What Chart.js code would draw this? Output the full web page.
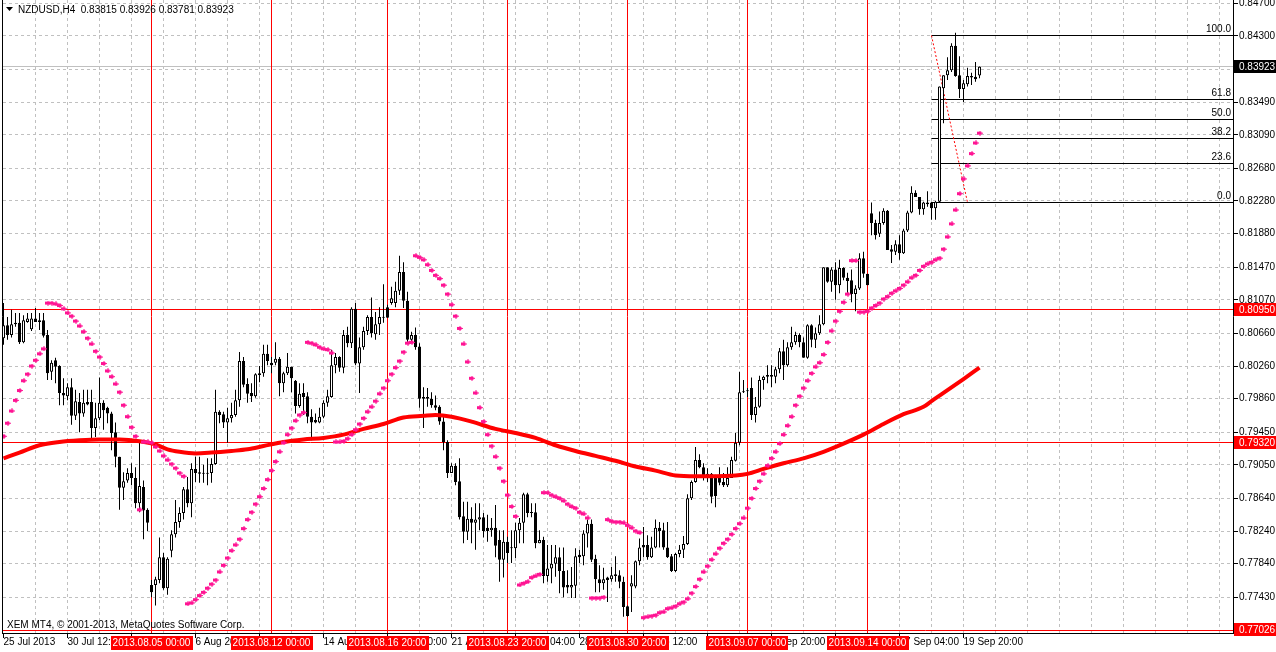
<!DOCTYPE html>
<html>
<head>
<meta charset="utf-8">
<title>NZDUSD,H4</title>
<script src="https://cdn.jsdelivr.net/npm/chart.js@4.4.0/dist/chart.umd.min.js"></script>
<style>
  html, body { margin: 0; padding: 0; background: #fff; }
</style>
</head>
<body>
<canvas id="chart" width="1276" height="652"></canvas>
<script>
// NZDUSD H4 bars, bar 0 = 25 Jul 2013 20:00
const symbol = 'NZDUSD,H4';

const opens = [
  .8060, .8076, .8064, .8079, .8079, .8055, .8080, .8071, .8084, .8082,
  .8082, .8064, .8019, .8033, .8026, .7993, .7989, .8000, .7965, .7982,
  .7968, .7982, .7982, .7950, .7962, .7981, .7975, .7968, .7945, .7915,
  .7877, .7886, .7895, .7889, .7858, .7878, .7850, .7758, .7758, .7764,
  .7792, .7754, .7800, .7820, .7835, .7846, .7875, .7858, .7900, .7896,
  .7895, .7894, .7895, .7906, .7970, .7967, .7957, .7962, .7966, .7984,
  .8032, .8004, .7993, .7989, .8017, .8017, .8041, .8030, .8030, .8035,
  .8005, .8017, .8025, .8008, .7977, .7993, .7989, .7964, .7960, .7957,
  .7964, .7981, .7988, .8027, .8037, .8024, .8064, .8054, .8096, .8029,
  .8049, .8069, .8086, .8065, .8077, .8086, .8098, .8103, .8103, .8118,
  .8141, .8106, .8058, .8064, .8050, .7988, .7988, .7986, .7978, .7976,
  .7958, .7933, .7895, .7904, .7885, .7842, .7823, .7839, .7834, .7838,
  .7841, .7828, .7825, .7828, .7813, .7789, .7811, .7803, .7803, .7825,
  .7834, .7869, .7847, .7847, .7809, .7813, .7769, .7778, .7784, .7792,
  .7775, .7758, .7755, .7757, .7795, .7793, .7821, .7833, .7790, .7765,
  .7760, .7767, .7765, .7771, .7770, .7762, .7732, .7756, .7756, .7787,
  .7807, .7807, .7792, .7804, .7828, .7825, .7804, .7793, .7775, .7796,
  .7801, .7808, .7864, .7884, .7911, .7902, .7890, .7894, .7890, .7889,
  .7884, .7880, .7889, .7910, .7932, .7994, .7996, .7999, .7966, .7976,
  .8009, .8015, .8015, .8013, .8022, .8044, .8027, .8049, .8055, .8064,
  .8055, .8036, .8076, .8058, .8066, .8077, .8147, .8129, .8144, .8125,
  .8146, .8134, .8131, .8114, .8121, .8158, .8139, .8213, .8201, .8188,
  .8201, .8216, .8169, .8166, .8175, .8164, .8192, .8214, .8238, .8233,
  .8218, .8226, .8226, .8219, .8227, .8366, .8382, .8388, .8418, .8382,
  .8365, .8371, .8381, .8380, .83815
];
const highs = [
  .8103, .8086, .8095, .8091, .8091, .8088, .8091, .8091, .8097, .8091,
  .8091, .8070, .8033, .8036, .8027, .8011, .8005, .8011, .7997, .7993,
  .7997, .7997, .7997, .7981, .8012, .7984, .7976, .7970, .7957, .7915,
  .7896, .7901, .7907, .7902, .7933, .7886, .7852, .7764, .7768, .7816,
  .7797, .7792, .7825, .7862, .7853, .7878, .7890, .7907, .7915, .7915,
  .7905, .7913, .7913, .7997, .7972, .7970, .7975, .7981, .7997, .8043,
  .8037, .8011, .8005, .8017, .8026, .8052, .8052, .8037, .8055, .8037,
  .8019, .8042, .8025, .8009, .8005, .8005, .7994, .7973, .7968, .7975,
  .7984, .7997, .8046, .8042, .8038, .8070, .8074, .8098, .8103, .8061,
  .8074, .8088, .8110, .8092, .8098, .8126, .8101, .8123, .8129, .8161,
  .8153, .8117, .8068, .8073, .8054, .8000, .7999, .7994, .7990, .7978,
  .7965, .7935, .7907, .7907, .7913, .7860, .7860, .7853, .7858, .7858,
  .7846, .7844, .7840, .7856, .7825, .7825, .7817, .7825, .7834, .7840,
  .7871, .7871, .7858, .7858, .7825, .7817, .7807, .7807, .7807, .7804,
  .7804, .7776, .7780, .7803, .7801, .7825, .7838, .7838, .7795, .7782,
  .7779, .7768, .7780, .7793, .7776, .7768, .7733, .7770, .7788, .7815,
  .7829, .7819, .7817, .7838, .7835, .7834, .7835, .7796, .7797, .7807,
  .7818, .7869, .7886, .7927, .7918, .7907, .7901, .7895, .7893, .7902,
  .7895, .7902, .7915, .7944, .8019, .8009, .7999, .8012, .7988, .8014,
  .8014, .8027, .8027, .8025, .8048, .8058, .8055, .8074, .8068, .8066,
  .8061, .8077, .8077, .8073, .8088, .8147, .8147, .8147, .8153, .8156,
  .8147, .8140, .8144, .8125, .8164, .8166, .8139, .8226, .8205, .8215,
  .8219, .8217, .8174, .8180, .8186, .8194, .8216, .8246, .8241, .8233,
  .8227, .8240, .8227, .8228, .8368, .8382, .8404, .8421, .8434, .8405,
  .8376, .8391, .8385, .8398, .83926
];
const lows = [
  .8052, .8058, .8061, .8074, .8053, .8054, .8079, .8069, .8080, .8070,
  .8061, .8009, .8009, .8005, .7978, .7978, .7984, .7954, .7960, .7945,
  .7964, .7978, .7938, .7939, .7960, .7948, .7956, .7923, .7902, .7850,
  .7862, .7883, .7880, .7852, .7847, .7814, .7824, .7743, .7733, .7760,
  .7752, .7746, .7792, .7816, .7828, .7838, .7853, .7841, .7884, .7883,
  .7883, .7880, .7883, .7905, .7956, .7950, .7932, .7957, .7964, .7976,
  .8000, .7981, .7982, .7987, .8006, .8013, .8027, .8017, .8027, .7989,
  .7994, .8015, .7994, .7968, .7975, .7966, .7956, .7935, .7956, .7956,
  .7962, .7976, .7987, .8017, .8019, .8017, .8049, .8048, .8027, .7993,
  .8046, .8064, .8061, .8058, .8064, .8079, .8085, .8101, .8098, .8113,
  .8097, .8055, .8055, .8046, .7975, .7950, .7976, .7975, .7972, .7954,
  .7923, .7889, .7895, .7880, .7838, .7809, .7813, .7809, .7801, .7825,
  .7816, .7811, .7817, .7792, .7762, .7767, .7785, .7785, .7791, .7809,
  .7809, .7841, .7841, .7803, .7809, .7760, .7762, .7760, .7768, .7748,
  .7743, .7748, .7742, .7742, .7785, .7782, .7804, .7786, .7749, .7749,
  .7752, .7737, .7762, .7762, .7754, .7719, .7719, .7725, .7754, .7782,
  .7792, .7789, .7791, .7803, .7804, .7801, .7791, .7774, .7774, .7792,
  .7791, .7807, .7862, .7883, .7901, .7886, .7884, .7858, .7853, .7880,
  .7878, .7878, .7889, .7909, .7929, .7993, .7988, .7960, .7957, .7975,
  .7997, .8005, .8000, .8005, .8017, .8009, .8025, .8046, .8052, .8049,
  .8036, .8035, .8049, .8048, .8064, .8076, .8128, .8117, .8107, .8115,
  .8131, .8115, .8104, .8093, .8119, .8134, .8125, .8186, .8181, .8184,
  .8199, .8168, .8152, .8162, .8156, .8163, .8190, .8213, .8233, .8211,
  .8211, .8221, .8205, .8205, .8226, .8323, .8376, .8386, .8380, .8354,
  .8349, .8368, .8370, .8374, .83781
];
const closes = [
  .8076, .8064, .8077, .8077, .8055, .8082, .8084, .8084, .8080, .8080,
  .8063, .8017, .8030, .8025, .7993, .7990, .8000, .7965, .7983, .7968,
  .7981, .7979, .7950, .7962, .7981, .7972, .7968, .7944, .7915, .7877,
  .7885, .7895, .7889, .7858, .7879, .7849, .7834, .7749, .7765, .7792,
  .7754, .7790, .7820, .7835, .7846, .7875, .7858, .7900, .7895, .7894,
  .7894, .7895, .7906, .7970, .7966, .7957, .7962, .7966, .7984, .8032,
  .8003, .7992, .7989, .8016, .8015, .8041, .8032, .8027, .8035, .8005,
  .8017, .8025, .8011, .7977, .7992, .7988, .7964, .7957, .7957, .7964,
  .7981, .7989, .8027, .8037, .8024, .8064, .8054, .8096, .8029, .8049,
  .8069, .8086, .8066, .8077, .8086, .8085, .8085, .8109, .8118, .8141,
  .8106, .8058, .8064, .8049, .7986, .7986, .7986, .7978, .7975, .7958,
  .7933, .7895, .7904, .7884, .7841, .7823, .7839, .7834, .7838, .7841,
  .7824, .7824, .7828, .7806, .7789, .7811, .7797, .7804, .7825, .7834,
  .7869, .7846, .7846, .7809, .7813, .7769, .7778, .7784, .7792, .7775,
  .7755, .7755, .7758, .7793, .7792, .7821, .7833, .7789, .7765, .7760,
  .7765, .7764, .7770, .7769, .7762, .7731, .7720, .7760, .7787, .7804,
  .7804, .7792, .7804, .7828, .7824, .7804, .7792, .7775, .7796, .7801,
  .7808, .7864, .7884, .7911, .7902, .7889, .7894, .7866, .7867, .7883,
  .7880, .7889, .7911, .7932, .7994, .7995, .7995, .7966, .7976, .8009,
  .8013, .8013, .8013, .8022, .8044, .8027, .8049, .8055, .8064, .8055,
  .8036, .8076, .8058, .8066, .8077, .8147, .8129, .8144, .8125, .8146,
  .8134, .8130, .8114, .8121, .8158, .8139, .8125, .8201, .8186, .8201,
  .8216, .8168, .8166, .8175, .8164, .8192, .8214, .8238, .8233, .8218,
  .8226, .8224, .8219, .8227, .8368, .8382, .8388, .8418, .8381, .8365,
  .8372, .8381, .8379, .8377, .83923
];

// Parabolic SAR, one dot per bar
const sar = [
  .7940, .7956, .7971, .7984, .7996, .8008, .8016, .8026, .8033, .8041,
  .8047, .8103, .8103, .8102, .8100, .8096, .8091, .8087, .8081, .8075,
  .8068, .8060, .8053, .8044, .8037, .8029, .8020, .8013, .8004, .7994,
  .7978, .7964, .7951, .7940, .7850, .7933, .7933, .7932, .7927, .7922,
  .7916, .7911, .7906, .7901, .7895, .7891, .7735, .7736, .7740, .7745,
  .7749, .7754, .7759, .7764, .7774, .7782, .7791, .7800, .7807, .7814,
  .7827, .7838, .7847, .7857, .7866, .7876, .7887, .7898, .7909, .7921,
  .7932, .7942, .7950, .7959, .7966, .7969, .8055, .8054, .8052, .8049,
  .8047, .8046, .8042, .7933, .7933, .7934, .7937, .7942, .7948, .7955,
  .7962, .7970, .7976, .7983, .7992, .7999, .8008, .8016, .8024, .8032,
  .8043, .8054, .8055, .8161, .8159, .8156, .8150, .8143, .8137, .8133,
  .8125, .8114, .8101, .8087, .8072, .8053, .8031, .8011, .7993, .7975,
  .7958, .7942, .7928, .7915, .7901, .7885, .7868, .7854, .7842, .7758,
  .7760, .7762, .7767, .7769, .7771, .7871, .7871, .7868, .7866, .7864,
  .7861, .7857, .7854, .7852, .7847, .7845, .7840, .7742, .7742, .7742,
  .7743, .7838, .7836, .7835, .7835, .7834, .7831, .7828, .7824, .7822,
  .7718, .7719, .7720, .7721, .7724, .7725, .7729, .7730, .7732, .7735,
  .7737, .7741, .7748, .7756, .7765, .7774, .7781, .7789, .7796, .7803,
  .7809, .7814, .7820, .7827, .7833, .7840, .7852, .7864, .7876, .7885,
  .7894, .7904, .7913, .7921, .7931, .7942, .7953, .7964, .7978, .7989,
  .7999, .8008, .8017, .8025, .8030, .8040, .8055, .8069, .8081, .8093,
  .8104, .8114, .8155, .8155, .8092, .8092, .8093, .8097, .8100, .8103,
  .8108, .8111, .8115, .8118, .8121, .8125, .8129, .8134, .8137, .8143,
  .8148, .8151, .8153, .8156, .8158, .8169, .8184, .8200, .8217, .8237,
  .8255, .8271, .8286, .8299, .8311
];

// moving average, read at these bars
const maIdx = [0, 4, 9, 14, 19, 24, 29, 34, 38, 41, 44, 48, 52, 57, 61, 65, 70, 75, 80, 85,
  90, 95, 100, 105, 108, 112, 117, 123, 128, 133, 138, 143, 148, 153, 158, 163, 168, 173, 178, 183,
  186, 190, 195, 200, 205, 210, 215, 220, 225, 230, 232, 235, 240, 244];
const maVal = [.7913, .7920, .7929, .7933, .7935, .7936, .7936, .7934, .7930, .7924, .7921, .7919, .7920, .7922, .7924, .7928, .7933, .7936, .7938, .7942,
  .7949, .7955, .7963, .7965, .7966, .7964, .7958, .7949, .7944, .7938, .7929, .7922, .7916, .7910, .7903, .7898, .7892, .7891, .7891, .7892,
  .7894, .7900, .7907, .7913, .7921, .7931, .7942, .7955, .7967, .7976, .7983, .7993, .8010, .8024];

// axes
const yTickVals = [0.8470, 0.8430, 0.8389, 0.8349, 0.8309, 0.8268, 0.8228, 0.8188, 0.8147, 0.8107,
  0.8066, 0.8026, 0.7986, 0.7945, 0.7905, 0.7864, 0.7824, 0.7784, 0.7743];
const xTickIdx = [0, 16, 32, 48, 64, 80, 96, 112, 128, 144, 160, 176, 192, 208, 224, 240];
const xTickText = ['25 Jul 2013', '30 Jul 12:00', '2 Aug 04:00', '6 Aug 20:00', '9 Aug 12:00', '14 Aug 04:00',
  '16 Aug 20:00', '21 Aug 12:00', '26 Aug 04:00', '28 Aug 20:00', '2 Sep 12:00', '5 Sep 04:00',
  '9 Sep 20:00', '11 Sep 12:00', '17 Sep 04:00', '19 Sep 20:00'];

// objects on chart
const vLineIdx = [37, 67, 96, 126, 156, 186, 216];
const vLineText = ['2013.08.05 00:00', '2013.08.12 00:00', '2013.08.16 20:00', '2013.08.23 20:00',
  '2013.08.30 20:00', '2013.09.07 00:00', '2013.09.14 00:00'];
const hLineVals = [0.80950, 0.79320, 0.77026];
const fibStart = 232, fibEnd = 241;
const fibHigh = 0.8430, fibLow = 0.8226;
const fibLevels = [100, 61.8, 50, 38.2, 23.6, 0];

const FONT_FAMILY = '"Liberation Sans", Arial, sans-serif';
const FONT = '10px ' + FONT_FAMILY;
const last = closes.length - 1;

// small arrow used by MT4 for the SAR dots
function sarArrow() {
  const c = document.createElement('canvas');
  c.width = 6; c.height = 5;
  const g = c.getContext('2d');
  g.fillStyle = '#ff1493';
  g.fillRect(3, 0, 1, 5);
  g.fillRect(0, 1, 5, 3);
  g.fillRect(5, 2, 1, 1);
  return c;
}

const mtDecor = {
  id: 'mtDecor',
  beforeDatasetsDraw(chart) {
    const {ctx, chartArea: a, scales: {x, y}} = chart;
    const px = v => Math.round(x.getPixelForValue(v) - 0.5) + 0.5;
    const py = v => Math.round(y.getPixelForValue(v) - 0.5) + 0.5;
    ctx.save();
    ctx.beginPath(); ctx.rect(a.left, a.top, a.right - a.left, a.bottom - a.top); ctx.clip();
    ctx.lineWidth = 1;

    // grid
    ctx.strokeStyle = '#c0c0c0';
    ctx.setLineDash([3, 3]);
    ctx.beginPath();
    yTickVals.forEach(v => { const yy = py(v); ctx.moveTo(a.left, yy); ctx.lineTo(a.right, yy); });
    for (let i = 8; i < x.max; i += 8) { const xx = px(i); ctx.moveTo(xx, a.top); ctx.lineTo(xx, a.bottom); }
    ctx.stroke();
    ctx.setLineDash([]);

    // bid line
    ctx.strokeStyle = '#c0c0c0';
    ctx.beginPath(); ctx.moveTo(a.left, py(closes[last])); ctx.lineTo(a.right, py(closes[last])); ctx.stroke();

    // red lines
    ctx.strokeStyle = '#ff0000';
    ctx.beginPath();
    vLineIdx.forEach(i => { const xx = px(i); ctx.moveTo(xx, a.top); ctx.lineTo(xx, a.bottom); });
    hLineVals.forEach(v => { const yy = py(v); ctx.moveTo(a.left, yy); ctx.lineTo(a.right, yy); });
    ctx.stroke();

    // fibo
    ctx.strokeStyle = '#000';
    ctx.beginPath();
    fibLevels.forEach(l => {
      const yy = py(fibLow + (fibHigh - fibLow) * l / 100);
      ctx.moveTo(px(fibStart), yy); ctx.lineTo(a.right, yy);
    });
    ctx.stroke();
    ctx.strokeStyle = '#ff0000';
    ctx.setLineDash([2, 2]);
    ctx.beginPath();
    ctx.moveTo(px(fibStart), py(fibHigh)); ctx.lineTo(px(fibEnd), py(fibLow));
    ctx.stroke();
    ctx.restore();
  },
  afterDraw(chart) {
    const {ctx, chartArea: a, scales: {x, y}} = chart;
    const px = v => Math.round(x.getPixelForValue(v) - 0.5) + 0.5;
    const py = v => Math.round(y.getPixelForValue(v) - 0.5) + 0.5;
    ctx.save();
    ctx.lineWidth = 1;
    ctx.strokeStyle = '#000';
    ctx.beginPath();
    ctx.moveTo(a.left - 0.5, 0); ctx.lineTo(a.left - 0.5, a.bottom + 0.5);
    ctx.moveTo(a.right + 0.5, 0); ctx.lineTo(a.right + 0.5, a.bottom + 0.5);
    ctx.moveTo(a.left - 1, a.bottom + 0.5); ctx.lineTo(a.right + 1, a.bottom + 0.5);
    yTickVals.forEach(v => { const yy = py(v); ctx.moveTo(a.right, yy); ctx.lineTo(a.right + 5, yy); });
    xTickIdx.forEach(i => { const xx = px(i); ctx.moveTo(xx, a.bottom); ctx.lineTo(xx, a.bottom + 5); });
    ctx.stroke();

    ctx.font = FONT;
    ctx.textBaseline = 'middle';

    // fibo labels
    ctx.fillStyle = '#000';
    ctx.textAlign = 'right';
    fibLevels.forEach(l => {
      const yy = py(fibLow + (fibHigh - fibLow) * l / 100);
      ctx.fillText(l.toFixed(1), a.right - 2, yy - 6);
    });

    // price boxes on the axis
    ctx.textAlign = 'left';
    const axisBox = (v, bg) => {
      const yy = Math.round(y.getPixelForValue(v));
      ctx.fillStyle = bg;
      ctx.fillRect(a.right + 1, yy - 7, chart.width - a.right - 1, 13);
      ctx.fillStyle = '#fff';
      ctx.fillText(v.toFixed(5), a.right + 6, yy);
    };
    hLineVals.forEach(v => axisBox(v, '#ff0000'));
    axisBox(closes[last], '#000');

    // date boxes under the vertical lines
    ctx.textAlign = 'center';
    vLineIdx.forEach((i, k) => {
      const xx = x.getPixelForValue(i);
      const w = Math.ceil(ctx.measureText(vLineText[k]).width) + 4;
      ctx.fillStyle = '#ff0000';
      ctx.fillRect(Math.round(xx - w / 2), a.bottom + 3, w, 14);
      ctx.fillStyle = '#fff';
      ctx.fillText(vLineText[k], xx, a.bottom + 10);
    });

    // title and copyright
    ctx.fillStyle = '#000';
    ctx.beginPath(); ctx.moveTo(6, 7); ctx.lineTo(13, 7); ctx.lineTo(9.5, 11); ctx.closePath(); ctx.fill();
    ctx.textAlign = 'left';
    ctx.fillText(symbol + '  ' + [opens[last], highs[last], lows[last], closes[last]].map(v => v.toFixed(5)).join(' '), 18, 10);
    ctx.fillText('XEM MT4, \u00a9 2001-2013, MetaQuotes Software Corp.', 7, 625);
    ctx.restore();
  }
};

const bars = opens.map((o, i) => i);
const wickData = bars.map(i => ({x: i, y: [lows[i], highs[i]]}));
const bodyData = bars.map(i => ({x: i, y: [opens[i], closes[i]]}));
const bodyColors = bars.map(i => closes[i] >= opens[i] ? '#ffffff' : '#000000');

new Chart(document.getElementById('chart'), {
  type: 'bar',
  data: {
    datasets: [
      {
        type: 'line', label: 'SAR', order: 1,
        data: bars.map(i => ({x: i, y: sar[i]})),
        showLine: false, pointStyle: sarArrow(), pointRadius: 3, pointHoverRadius: 3
      },
      {
        type: 'line', label: 'MA', order: 2,
        data: maIdx.map((i, k) => ({x: i, y: maVal[k]})),
        borderColor: '#ff0000', borderWidth: 4, pointRadius: 0,
        cubicInterpolationMode: 'monotone'
      },
      {
        label: 'body', order: 3, data: bodyData, grouped: false,
        barThickness: 3, backgroundColor: bodyColors, borderColor: '#000', borderWidth: 1,
        borderSkipped: false, inflateAmount: 0, minBarLength: 1
      },
      {
        label: 'wick', order: 4, data: wickData, grouped: false,
        barThickness: 1, backgroundColor: '#000', borderWidth: 0, inflateAmount: 0
      }
    ]
  },
  options: {
    responsive: false,
    animation: false,
    events: [],
    layout: {autoPadding: false, padding: {left: 3, top: 0, right: 0, bottom: 0}},
    plugins: {legend: {display: false}, tooltip: {enabled: false}},
    scales: {
      x: {
        type: 'linear', min: -0.125, max: 307.375, offset: false,
        grid: {display: false, drawTicks: false}, border: {display: false},
        afterBuildTicks: s => { s.ticks = xTickIdx.map(v => ({value: v})); },
        afterFit: s => { s.height = 19; s.paddingLeft = 0; s.paddingRight = 0; },
        ticks: {
          autoSkip: false, maxRotation: 0, minRotation: 0, align: 'start', padding: 3,
          color: '#000', font: {family: FONT_FAMILY, size: 10},
          callback: v => xTickText[xTickIdx.indexOf(v)] || ''
        }
      },
      y: {
        type: 'linear', position: 'right', min: 0.76992, max: 0.8474,
        grid: {display: false, drawTicks: false}, border: {display: false},
        afterBuildTicks: s => { s.ticks = yTickVals.map(v => ({value: v})); },
        afterFit: s => { s.width = 43; s.paddingTop = 0; s.paddingBottom = 0; },
        ticks: {
          padding: 6, color: '#000', font: {family: FONT_FAMILY, size: 10},
          callback: v => v.toFixed(5)
        }
      }
    }
  },
  plugins: [mtDecor]
});
</script>
</body>
</html>
